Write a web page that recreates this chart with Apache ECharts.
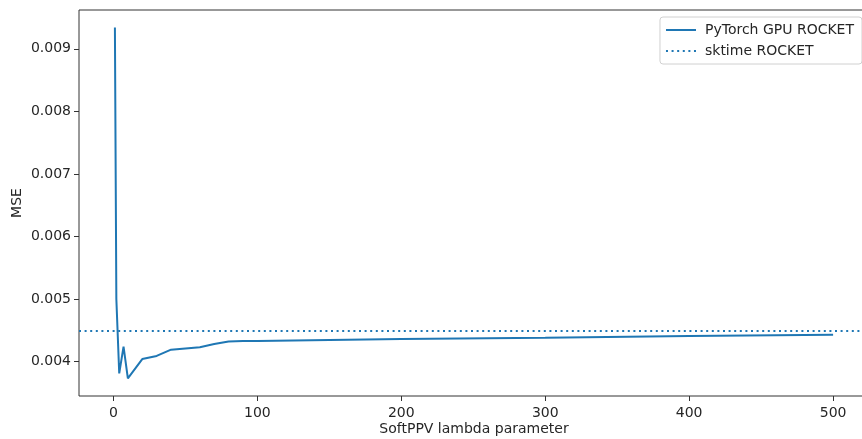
<!DOCTYPE html>
<html>
<head>
<meta charset="utf-8">
<script src="https://cdn.jsdelivr.net/npm/echarts@6/dist/echarts.min.js"></script>
<style>
  html, body { margin: 0; padding: 0; background: #fff; }
  #chart { width: 862px; height: 439px; }
</style>
</head>
<body>
<div id="chart"></div>
<script>
// SoftPPV lambda vs MSE
const lambdas = [1, 2, 4, 7, 10, 20, 30, 40, 50, 60, 70, 80, 90, 100, 200, 300, 400, 500];
const gpuMse = [0.00934, 0.00500, 0.00381, 0.00424, 0.00373, 0.00404, 0.00409, 0.00419, 0.00421,
                0.00423, 0.00428, 0.00432, 0.00433, 0.00433, 0.00436, 0.00438, 0.00441, 0.00443];
const sktimeMse = 0.00449;
const xTicks = [0, 100, 200, 300, 400, 500];
const yTicks = [0.004, 0.005, 0.006, 0.007, 0.008, 0.009];

// matplotlib style 5% margins
const xPad = (lambdas[lambdas.length - 1] - lambdas[0]) * 0.05;
const xMin = lambdas[0] - xPad, xMax = lambdas[lambdas.length - 1] + xPad;
const yLo = Math.min(...gpuMse), yHi = Math.max(...gpuMse);
const yPad = (yHi - yLo) * 0.05;
const yMin = yLo - yPad, yMax = yHi + yPad;

const blue = '#1f77b4';
const txt = '#262626';
const font = 'DejaVu Sans';

let chart = echarts.init(document.getElementById('chart'));
chart.setOption({
    animation: false,
    grid: {
        left: 79, top: 10, width: 790, height: 386,
        outerBoundsMode: 'none',
        containLabel: false,
        show: true, borderColor: '#333', borderWidth: 1, backgroundColor: 'transparent'
    },
    legend: {
        right: 0, top: 17,
        orient: 'vertical',
        align: 'left',
        itemWidth: 30, itemHeight: 10, itemGap: 7,
        padding: [6, 8, 6, 5],
        borderColor: '#d0d0d0', borderWidth: 1, borderRadius: 3,
        itemStyle: {opacity: 0},
        textStyle: {fontFamily: font, fontSize: 14, color: txt, padding: [0, 0, 0, 4]},
        data: ['PyTorch GPU ROCKET', 'sktime ROCKET']
    },
    xAxis: {
        type: 'value', min: xMin, max: xMax,
        name: 'SoftPPV lambda parameter',
        nameLocation: 'middle', nameGap: 26, nameMoveOverlap: false,
        nameTextStyle: {fontFamily: font, fontSize: 14, color: txt},
        splitLine: {show: false},
        axisLine: {show: false, onZero: false},
        axisTick: {show: true, length: 5, customValues: xTicks, lineStyle: {color: '#333'}},
        axisLabel: {customValues: xTicks, fontFamily: font, fontSize: 14, color: txt, margin: 10}
    },
    yAxis: {
        type: 'value', min: yMin, max: yMax,
        name: 'MSE',
        nameLocation: 'middle', nameGap: 55, nameRotate: 90, nameMoveOverlap: false,
        nameTextStyle: {fontFamily: font, fontSize: 14, color: txt},
        splitLine: {show: false},
        axisLine: {show: false, onZero: false},
        axisTick: {show: true, length: 5, customValues: yTicks, lineStyle: {color: '#333'}},
        axisLabel: {
            customValues: yTicks, fontFamily: font, fontSize: 14, color: txt, margin: 8,
            formatter: v => v.toFixed(3)
        }
    },
    series: [
        {
            name: 'PyTorch GPU ROCKET',
            type: 'line',
            symbol: 'none',
            color: blue,
            lineStyle: {color: blue, width: 2},
            data: lambdas.map((l, i) => [l, gpuMse[i]])
        },
        {
            name: 'sktime ROCKET',
            type: 'line',
            symbol: 'none',
            color: blue,
            lineStyle: {color: blue, width: 2, type: [2, 3.6]},
            data: [[xMin, sktimeMse], [xMax, sktimeMse]]
        }
    ]
});
</script>
</body>
</html>
